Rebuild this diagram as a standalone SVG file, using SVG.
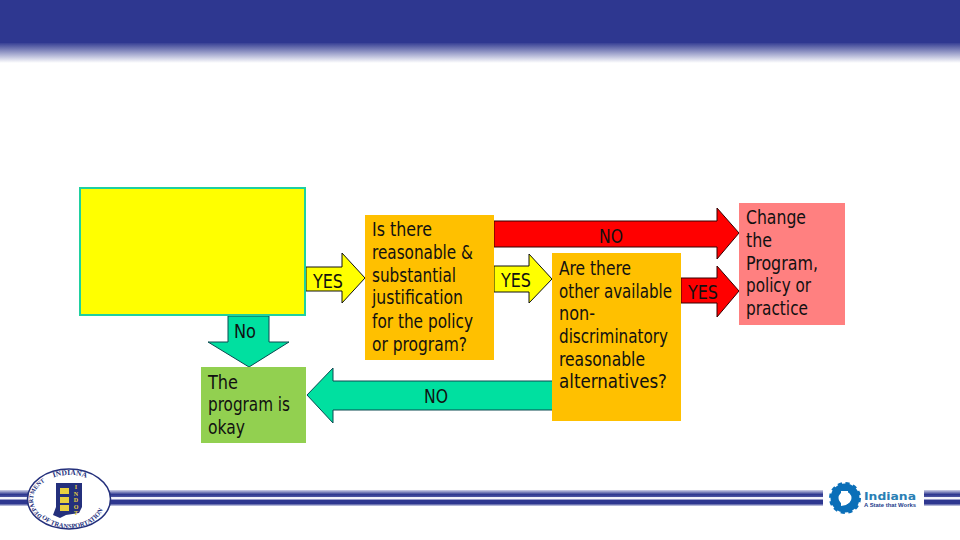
<svg xmlns="http://www.w3.org/2000/svg" xmlns:xlink="http://www.w3.org/1999/xlink" width="960" height="540" viewBox="0 0 960 540">
<style>
text{font-family:"DejaVu Sans Condensed","DejaVu Sans","Liberation Sans",sans-serif;font-size:19.5px;fill:#111}
.c{text-anchor:middle}
.y{fill:#ffff00;stroke:#111;stroke-width:1}
.r{fill:#ff0000;stroke:#300;stroke-width:1}
.g{fill:#00e0a0;stroke:#0a4a50;stroke-width:1}
.seal{font-family:"Liberation Serif",serif;font-size:6px;font-weight:bold;fill:#24307c}
</style>
<defs>
<linearGradient id="fade" x1="0" y1="0" x2="0" y2="1"><stop offset="0" stop-color="#2e3790"/><stop offset="1" stop-color="#2e3790" stop-opacity="0"/></linearGradient>
<linearGradient id="band" x1="0" y1="0" x2="0" y2="1">
<stop offset="0" stop-color="#d0d2e8"/><stop offset=".28" stop-color="#2e3790"/><stop offset=".42" stop-color="#4a52a0"/><stop offset=".47" stop-color="#f4f4fb"/><stop offset=".57" stop-color="#f4f4fb"/><stop offset=".62" stop-color="#2e3790"/><stop offset=".85" stop-color="#2e3790"/><stop offset="1" stop-color="#d5d7ea"/>
</linearGradient>
</defs>

<g id="header">
<rect x="0" y="0" width="960" height="43" fill="#2e3790"/>
<rect x="0" y="42" width="960" height="21" fill="url(#fade)"/>
</g>
<g id="footer">
<rect x="0" y="490" width="960" height="16" fill="url(#band)"/>
<rect x="823" y="480" width="101" height="36" fill="#fff"/>
</g>
<g id="seal">
<ellipse cx="69" cy="499" rx="41.5" ry="30" fill="#fff" stroke="#24307c" stroke-width="1.5"/>
<path id="sealTop" d="M50 479A35 24 0 0 1 98 485" fill="none"/>
<path id="sealLeft" d="M44 517A35 24 0 0 1 50 479" fill="none"/>
<path id="sealBot" d="M38 513A35 27 0 0 0 104.500 500" fill="none"/>
<text class="seal" style="font-size:7.500px"><textPath xlink:href="#sealTop" startOffset="4">INDIANA</textPath></text>
<text class="seal"><textPath xlink:href="#sealLeft" startOffset="2">DEPARTMENT</textPath></text>
<text class="seal" style="font-size:6.500px"><textPath xlink:href="#sealBot" startOffset="6">OF TRANSPORTATION</textPath></text>
<path d="M56 483H82V507L79 513L66 515L60 518L53 515L56 507Z" fill="#24307c"/>
<rect x="60" y="488" width="9" height="6" fill="#e8d040"/>
<rect x="60" y="497" width="9" height="6" fill="#e8d040"/>
<rect x="60" y="505" width="9" height="6" fill="#e8d040"/>
<text x="76" y="484" style="font-family:'Liberation Serif',serif;font-size:6px;font-weight:bold;fill:#e8d040;writing-mode:vertical-rl;text-orientation:upright;letter-spacing:.5px">INDOT</text>
</g>
<g id="indiana-logo">
<circle cx="845" cy="498" r="10.500" fill="none" stroke="#0b6fb8" stroke-width="8"/>
<circle cx="845" cy="498" r="14" fill="none" stroke="#0b6fb8" stroke-width="4" stroke-dasharray="4 3.330"/>
<path d="M841 491H848V503L846 505L841 506Z" fill="#fff"/>
<text x="864" y="500" style="font-family:'DejaVu Sans',sans-serif;font-size:10.500px;font-weight:bold;fill:#2a7fb5" textLength="52" lengthAdjust="spacingAndGlyphs">Indiana</text>
<text x="864" y="507" style="font-family:'Liberation Sans',sans-serif;font-size:4.500px;font-weight:bold;fill:#24408c" textLength="52" lengthAdjust="spacingAndGlyphs">A State that Works</text>
</g>

<g id="connectors">
<polygon class="y" points="306,267 342,267 342,253 365,278 342,303 342,291 306,291"/>
<polygon class="g" points="228,316 269,316 269,342 289,342 249,367 208,342 228,342"/>
<polygon class="g" points="553,381 333,381 333,368 307,395 333,423 333,410 553,410"/>
<polygon class="r" points="494,221 717,221 717,208 739,233 717,259 717,247 494,247"/>
<polygon class="y" points="494,266 529,266 529,254 552,279 529,303 529,292 494,292"/>
<polygon class="r" points="681,278 717,278 717,266 739,291 717,317 717,303 681,303"/>
<text class="c" x="328" y="288" textLength="30" lengthAdjust="spacingAndGlyphs">YES</text>
<text class="c" x="245" y="338" textLength="22" lengthAdjust="spacingAndGlyphs">No</text>
<text class="c" x="436" y="403" textLength="24" lengthAdjust="spacingAndGlyphs">NO</text>
<text class="c" x="611" y="243" textLength="24" lengthAdjust="spacingAndGlyphs">NO</text>
<text class="c" x="516" y="287" textLength="30" lengthAdjust="spacingAndGlyphs">YES</text>
<text class="c" x="703" y="299" textLength="30" lengthAdjust="spacingAndGlyphs">YES</text>
</g>

<g id="start-box"><rect x="80" y="188" width="225" height="127" fill="#ffff00" stroke="#1fd0a0" stroke-width="2"/></g>
<g id="okay-box"><rect x="201" y="367" width="105" height="76" fill="#92d050"/>
<text x="208" y="389" textLength="30" lengthAdjust="spacingAndGlyphs">The</text><text x="208" y="411" textLength="82" lengthAdjust="spacingAndGlyphs">program is</text><text x="208" y="434" textLength="37" lengthAdjust="spacingAndGlyphs">okay</text></g>
<g id="justification-box"><rect x="365" y="215" width="129" height="145" fill="#ffc000"/>
<text x="372" y="236" textLength="60" lengthAdjust="spacingAndGlyphs">Is there</text><text x="372" y="259" textLength="101" lengthAdjust="spacingAndGlyphs">reasonable &amp;</text><text x="372" y="282" textLength="84" lengthAdjust="spacingAndGlyphs">substantial</text><text x="372" y="304" textLength="91" lengthAdjust="spacingAndGlyphs">justification</text><text x="372" y="328" textLength="101" lengthAdjust="spacingAndGlyphs">for the policy</text><text x="372" y="351" textLength="95" lengthAdjust="spacingAndGlyphs">or program?</text></g>
<g id="alternatives-box"><rect x="552" y="253" width="129" height="168" fill="#ffc000"/>
<text x="559" y="275" textLength="72" lengthAdjust="spacingAndGlyphs">Are there</text><text x="559" y="298" textLength="113" lengthAdjust="spacingAndGlyphs">other available</text><text x="559" y="320" textLength="36" lengthAdjust="spacingAndGlyphs">non-</text><text x="559" y="343" textLength="109" lengthAdjust="spacingAndGlyphs">discriminatory</text><text x="559" y="366" textLength="86" lengthAdjust="spacingAndGlyphs">reasonable</text><text x="559" y="388" textLength="108" lengthAdjust="spacingAndGlyphs">alternatives?</text></g>
<g id="change-box"><rect x="739" y="203" width="106" height="122" fill="#ff8080"/>
<text x="746" y="224" textLength="60" lengthAdjust="spacingAndGlyphs">Change</text><text x="746" y="247" textLength="26" lengthAdjust="spacingAndGlyphs">the</text><text x="746" y="270" textLength="72" lengthAdjust="spacingAndGlyphs">Program,</text><text x="746" y="292" textLength="65" lengthAdjust="spacingAndGlyphs">policy or</text><text x="746" y="315" textLength="62" lengthAdjust="spacingAndGlyphs">practice</text></g>
</svg>
